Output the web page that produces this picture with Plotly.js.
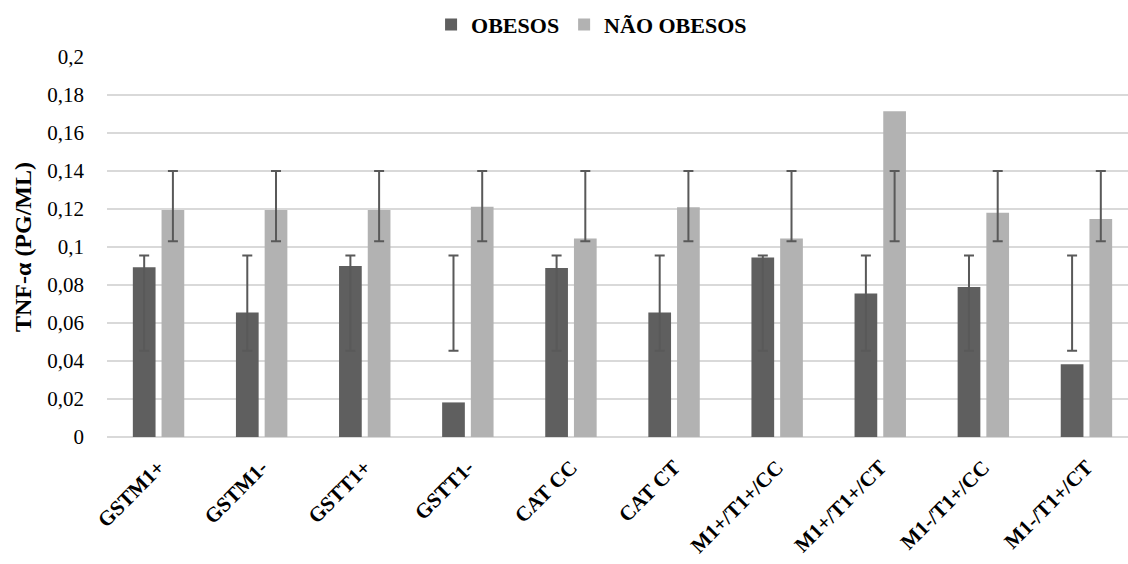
<!DOCTYPE html>
<html>
<head>
<meta charset="utf-8">
<script src="https://cdn.plot.ly/plotly-3.0.1.min.js"></script>
<style>
html,body{margin:0;padding:0;overflow:hidden;background:#fff;}
#chart{width:1140px;height:564px;}
</style>
</head>
<body>
<div id="chart"></div>
<script>
const categories = ["GSTM1+","GSTM1-","GSTT1+","GSTT1-","CAT CC","CAT CT","M1+/T1+/CC","M1+/T1+/CT","M1-/T1+/CC","M1-/T1+/CT"];
const obesos    = [0.0893,0.0655,0.0900,0.0182,0.0890,0.0655,0.0945,0.0755,0.0789,0.0383];
const naoObesos = [0.1195,0.1195,0.1195,0.1212,0.1045,0.1209,0.1045,0.1715,0.1180,0.1147];
const errLowObesos  = [0.0454,0.0454,0.0454,0.0454,0.0454,0.0454,0.0454,0.0454,0.0454,0.0454];
const errHighObesos = [0.0955,0.0955,0.0955,0.0955,0.0955,0.0955,0.0955,0.0955,0.0955,0.0955];
const errLowNao  = [0.1030,0.1030,0.1030,0.1030,0.1030,0.1030,0.1030,0.1030,0.1030,0.1030];
const errHighNao = [0.1400,0.1400,0.1400,0.1400,0.1400,0.1400,0.1400,0.1400,0.1400,0.1400];
const tickVals   = [0,0.02,0.04,0.06,0.08,0.1,0.12,0.14,0.16,0.18,0.2];
const tickLabels = ["0","0,02","0,04","0,06","0,08","0,1","0,12","0,14","0,16","0,18","0,2"];

const C_OB = "#5f5f5f", C_NAO = "#b2b2b2", C_ERR = "#595959";
const serif = '"Liberation Serif", "DejaVu Serif", serif';

const mid = (lo, hi) => lo.map((v, i) => (v + hi[i]) / 2);
const half = (lo, hi) => lo.map((v, i) => (hi[i] - v) / 2);

const traces = [
  {type:"bar", name:"OBESOS", x:categories, y:obesos, offsetgroup:"a",
   marker:{color:C_OB}, hoverinfo:"y"},
  {type:"bar", name:"NÃO OBESOS", x:categories, y:naoObesos, offsetgroup:"b",
   marker:{color:C_NAO}, hoverinfo:"y"},
  {type:"bar", x:categories, y:mid(errLowObesos, errHighObesos), offsetgroup:"a",
   marker:{color:"rgba(0,0,0,0)"}, showlegend:false, hoverinfo:"skip",
   error_y:{type:"data", array:half(errLowObesos, errHighObesos), visible:true, color:C_ERR, thickness:2, width:5}},
  {type:"bar", x:categories, y:mid(errLowNao, errHighNao), offsetgroup:"b",
   marker:{color:"rgba(0,0,0,0)"}, showlegend:false, hoverinfo:"skip",
   error_y:{type:"data", array:half(errLowNao, errHighNao), visible:true, color:C_ERR, thickness:2, width:5}}
];

const layout = {
  width:1140, height:564,
  margin:{l:107, r:2, t:57, b:127},
  paper_bgcolor:"#fff", plot_bgcolor:"#fff",
  barmode:"group", bargap:0.443, bargroupgap:0.209,
  showlegend:true,
  legend:{orientation:"h", x:0.47, xanchor:"center", y:1.085, yanchor:"middle",
          font:{family:serif, size:22, color:"#000", weight:700}, itemwidth:30, traceorder:"normal"},
  xaxis:{type:"category", tickangle:-45, showgrid:false, zeroline:false, showline:false, ticks:"",
         ticklabelstandoff:13,
         tickfont:{family:serif, size:21, color:"#000", weight:700}},
  yaxis:{range:[0,0.2], tickvals:tickVals, ticktext:tickLabels, showgrid:true, gridcolor:"#d9d9d9", gridwidth:2,
         zeroline:true, zerolinecolor:"#d9d9d9", zerolinewidth:2, showline:false, ticks:"",
         ticklabelstandoff:22,
         tickfont:{family:serif, size:21, color:"#000"},
         title:{text:"TNF-α (PG/ML)", standoff:8, font:{family:serif, size:24, color:"#000", weight:700}}}
};

Plotly.newPlot("chart", traces, layout, {displayModeBar:false, staticPlot:true});
</script>
</body>
</html>
